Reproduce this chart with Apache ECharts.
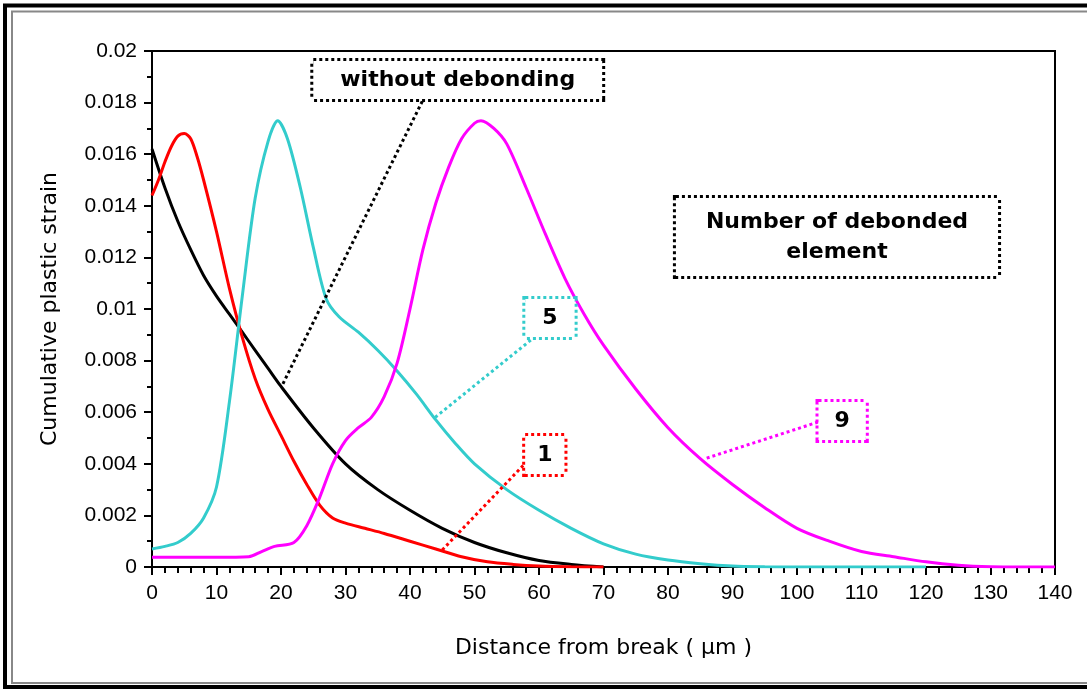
<!DOCTYPE html>
<html>
<head>
<meta charset="utf-8">
<script src="https://cdn.jsdelivr.net/npm/echarts@6/dist/echarts.min.js"></script>
<style>
html,body{margin:0;padding:0;background:#fff;}
#chart{width:1087px;height:689px;}
</style>
</head>
<body>
<div id="chart"></div>
<script>
// ---- data ----
var xTicks = [0,10,20,30,40,50,60,70,80,90,100,110,120,130,140];
var yTickLabels = ['0','0.002','0.004','0.006','0.008','0.01','0.012','0.014','0.016','0.018','0.02'];

var xNoDebond = [0,2,4,6,8,10,12,14,16,18,20,25,30,35,40,45,50,55,60,65,70];
var yNoDebond = [0.0162,0.0147,0.0134,0.0123,0.0113,0.0105,0.0098,0.0091,0.0084,0.0077,0.0070,0.0054,0.0040,0.0030,0.0022,0.0015,0.00095,0.00055,0.00025,0.0001,0];

var xDeb1 = [0,1,2,3,4,5,6,7,8,10,12,14,16,18,20,22,24,26,28,30,33,36,40,44,48,52,56,60,65,70];
var yDeb1 = [0.0144,0.0150,0.0157,0.0163,0.0167,0.0168,0.0166,0.0159,0.0150,0.0130,0.0108,0.0089,0.0073,0.0061,0.0051,0.0041,0.0032,0.0024,0.0019,0.0017,0.0015,0.0013,0.0010,0.0007,0.0004,0.0002,0.0001,0.00004,0.00001,0];

var xDeb5 = [0,2,4,6,8,10,12,14,16,18,19.5,21,23,25,27,29,32,35,38,41,44,47,50,55,60,65,70,75,80,85,90,95,100,110,120];
var yDeb5 = [0.0007,0.0008,0.00095,0.0013,0.0019,0.0031,0.0064,0.0105,0.0143,0.0165,0.0173,0.0166,0.0147,0.0124,0.0104,0.0097,0.0091,0.0084,0.0076,0.0067,0.0057,0.0048,0.0040,0.0030,0.0022,0.0015,0.0009,0.0005,0.00027,0.00013,0.00004,0.00001,0,0,0];

var xDeb9 = [0,5,10,15,17,19,22,24,26,28,30,32,34,36,38,40,42,44,46,48,50,51,53,55,58,61,64,67,70,75,80,85,90,95,100,105,110,115,120,125,130,135,140];
var yDeb9 = [0.00038,0.00038,0.00038,0.0004,0.0006,0.0008,0.00095,0.0016,0.0027,0.0040,0.0049,0.0054,0.0058,0.0066,0.0079,0.0100,0.0123,0.0141,0.0155,0.0166,0.0172,0.0173,0.0170,0.0164,0.0147,0.0129,0.0112,0.0098,0.0086,0.0069,0.0054,0.0042,0.0032,0.0023,0.0015,0.0010,0.0006,0.0004,0.0002,0.00007,0.00001,0,0];

function pairs(xs, ys){ return xs.map(function(x,i){ return [x, ys[i]]; }); }

var FONT = 'DejaVu Sans';
var TICKFONT = 'Liberation Sans';

function boxLabel(text, color, pad){
  return {
    show: true, position: 'inside', formatter: text,
    color: '#000', fontFamily: FONT, fontWeight: 'bold', fontSize: 22, lineHeight: 30,
    backgroundColor: '#fff', borderColor: color, borderWidth: 3, borderType: [3, 3],
    padding: pad
  };
}
function leader(color, a, b){
  return {
    silent: true, symbol: ['none','none'], label: {show:false},
    lineStyle: {color: color, width: 3, type: [3, 3]},
    data: [[{coord: a}, {coord: b}]], animation: false
  };
}
function annot(text, color, pos, pad){
  return {
    silent: true, symbol: 'rect', symbolSize: 1, itemStyle: {color: 'rgba(0,0,0,0)'},
    label: boxLabel(text, color, pad),
    data: [{coord: pos}], animation: false
  };
}

var chart = echarts.init(document.getElementById('chart'), null, {renderer: 'canvas'});
var option = {
  animation: false,
  backgroundColor: '#fff',
  grid: {left: 152, right: 32, top: 51, bottom: 122, show: true, borderColor: '#000', borderWidth: 2, backgroundColor: 'transparent'},
  xAxis: {
    type: 'value', min: 0, max: 140, interval: 10,
    name: 'Distance from break ( μm )', nameLocation: 'middle', nameGap: 70,
    nameTextStyle: {fontFamily: FONT, fontSize: 22, color: '#000'},
    axisLine: {show: true, onZero: false, lineStyle: {color: '#000', width: 2}},
    axisTick: {show: true, inside: false, length: 8, lineStyle: {color: '#000', width: 2}},
    minorTick: {show: true, splitNumber: 5, length: 6, lineStyle: {color: '#000', width: 2}},
    splitLine: {show: false},
    axisLabel: {fontFamily: TICKFONT, fontSize: 21, color: '#000', margin: 16,
      formatter: function(v){ var i = xTicks.indexOf(v); return i >= 0 ? String(xTicks[i]) : ''; }}
  },
  yAxis: {
    type: 'value', min: 0, max: 0.02, interval: 0.002,
    name: 'Cumulative plastic strain', nameLocation: 'middle', nameGap: 91,
    nameTextStyle: {fontFamily: FONT, fontSize: 22, color: '#000'},
    axisLine: {show: true, onZero: false, lineStyle: {color: '#000', width: 2}},
    axisTick: {show: true, inside: false, length: 8, lineStyle: {color: '#000', width: 2}},
    minorTick: {show: true, splitNumber: 2, length: 5, lineStyle: {color: '#000', width: 2}},
    splitLine: {show: false},
    axisLabel: {fontFamily: TICKFONT, fontSize: 21, color: '#000', margin: 15,
      formatter: function(v){ var i = Math.round(v / 0.002); return yTickLabels[i]; }}
  },
  graphic: [
    {type: 'rect', silent: true, z: 100, shape: {x: 5, y: 5.5, width: 1100, height: 681.5}, style: {fill: 'none', stroke: '#000', lineWidth: 4}},
    {type: 'rect', silent: true, z: 100, shape: {x: 12, y: 11.5, width: 1100, height: 671.5}, style: {fill: 'none', stroke: '#888', lineWidth: 2}}
  ],
  series: [
    {
      name: 'without debonding', type: 'line', data: pairs(xNoDebond, yNoDebond),
      smooth: 0.3, showSymbol: false, lineStyle: {color: '#000', width: 3}, itemStyle: {color: '#000'}, z: 3,
      markLine: leader('#000', [20.3, 0.0071], [42, 0.0181]),
      markPoint: {
        silent: true, symbol: 'rect', symbolSize: 1, itemStyle: {color: 'rgba(0,0,0,0)'}, animation: false,
        data: [
          {coord: [47.4, 0.01888], label: boxLabel('without debonding', '#000', [4, 27])},
          {coord: [106.2, 0.01279], label: boxLabel('Number of debonded\nelement', '#000', [9, 30])}
        ]
      }
    },
    {
      name: '1', type: 'line', data: pairs(xDeb1, yDeb1),
      smooth: 0.3, showSymbol: false, lineStyle: {color: '#ff0000', width: 3}, itemStyle: {color: '#ff0000'}, z: 3,
      markLine: leader('#ff0000', [45, 0.00066], [57.8, 0.0040]),
      markPoint: annot('1', '#ff0000', [60.9, 0.00434], [4, 12])
    },
    {
      name: '5', type: 'line', data: pairs(xDeb5, yDeb5),
      smooth: 0.3, showSymbol: false, lineStyle: {color: '#33cccc', width: 3}, itemStyle: {color: '#33cccc'}, z: 3,
      markLine: leader('#33cccc', [43.9, 0.0058], [59.1, 0.00887]),
      markPoint: annot('5', '#33cccc', [61.7, 0.00965], [4, 17])
    },
    {
      name: '9', type: 'line', data: pairs(xDeb9, yDeb9),
      smooth: 0.3, showSymbol: false, lineStyle: {color: '#ff00ff', width: 3}, itemStyle: {color: '#ff00ff'}, z: 3,
      markLine: leader('#ff00ff', [86, 0.00422], [103.3, 0.00562]),
      markPoint: annot('9', '#ff00ff', [107, 0.00566], [4, 16])
    }
  ]
};
chart.setOption(option);
</script>
</body>
</html>
